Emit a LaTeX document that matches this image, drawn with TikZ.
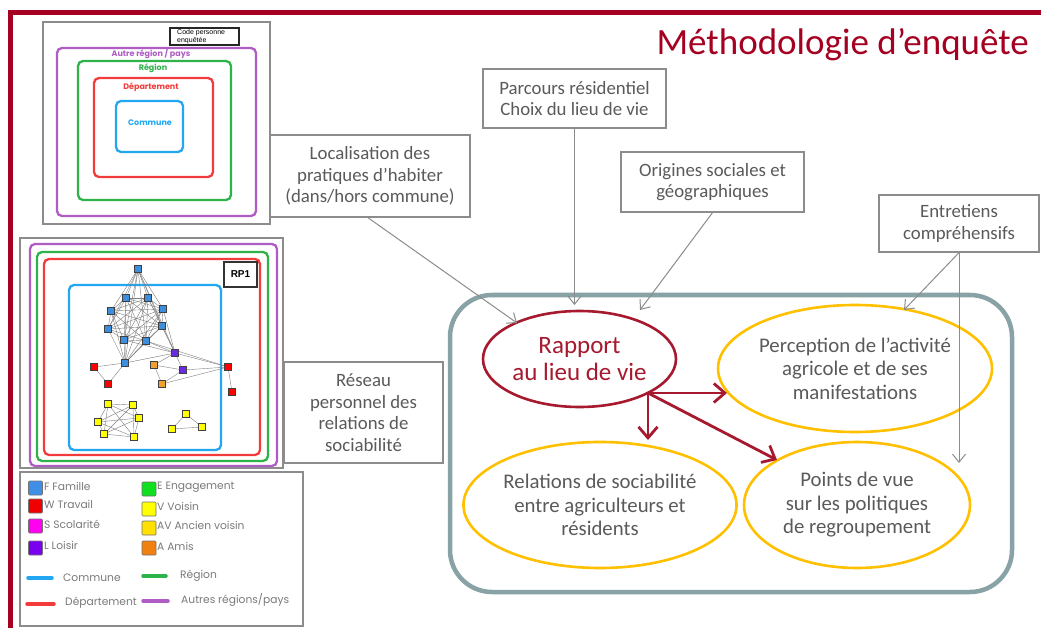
\documentclass[tikz,border=0pt]{standalone}
\usepackage{fontspec}
\setmainfont{Carlito}
\newfontfamily\legfont{Poppins}
\newfontfamily\arialfont{Liberation Sans}
\usetikzlibrary{arrows.meta,shapes.geometric}
\definecolor{framered}{HTML}{A50021}
\definecolor{boxgray}{HTML}{8C8C8C}
\definecolor{txtgray}{HTML}{5A5A5A}
\definecolor{leggray}{HTML}{7A7A7A}
\definecolor{tealgray}{HTML}{88A2A5}
\definecolor{gold}{HTML}{FFC000}
\definecolor{rapred}{HTML}{A6192E}
\definecolor{cpurple}{HTML}{AF5CC4}
\definecolor{cgreen}{HTML}{2DB34A}
\definecolor{cred}{HTML}{F23C3C}
\definecolor{cblue}{HTML}{22A7F0}
\definecolor{nblue}{HTML}{3E8EDE}
\definecolor{nred}{HTML}{FF0000}
\definecolor{npurple}{HTML}{6A2CE0}
\definecolor{norange}{HTML}{F0A030}
\definecolor{nyellow}{HTML}{FFFF00}
\definecolor{lgfam}{HTML}{3F8FE6}
\definecolor{lgtrav}{HTML}{F00000}
\definecolor{lgscol}{HTML}{FF00F0}
\definecolor{lgloi}{HTML}{7A00F0}
\definecolor{lgeng}{HTML}{10E020}
\definecolor{lgvoi}{HTML}{FFFF00}
\definecolor{lgav}{HTML}{FFE000}
\definecolor{lgami}{HTML}{F08010}
\begin{document}
\begin{tikzpicture}[x=1pt,y=-1pt,
  tbox/.style={draw=boxgray, line width=1.3pt, fill=white, text=txtgray,
    font=\fontsize{18.8}{21.5}\selectfont, align=center, inner sep=0pt},
  oval/.style={ellipse, draw=gold, line width=2.6pt, text=txtgray,
    font=\fontsize{20.8}{23.5}\selectfont, align=center, inner sep=0pt},
  garrow/.style={draw=boxgray, line width=1pt, -{Straight Barb[length=8pt,width=13pt,line width=1pt]}},
  rarrow/.style={draw=rapred, line width=2.8pt, -{Straight Barb[length=11pt,width=19pt,line width=2.8pt]}},
  zone/.style={rounded corners=5pt, line width=2.3pt},
  zlabel/.style={font=\legfont\bfseries\fontsize{8}{8}\selectfont, inner sep=0pt},
  nedge/.style={draw=black!50, line width=0.4pt},
  netnode/.style={rectangle, draw=black!75, line width=0.7pt, minimum size=7pt, inner sep=0pt},
  legsq/.style={rectangle, draw=black!55, line width=0.7pt, minimum size=14pt, inner sep=0pt, rounded corners=1pt},
  legtxt/.style={font=\legfont\fontsize{10.7}{10.7}\selectfont, text=leggray, anchor=west, inner sep=0pt},
  legline/.style={line width=3.5pt, line cap=round},
  graybox/.style={draw=boxgray, line width=1.2pt}
]
\useasboundingbox (0,0) rectangle (1041,628);
\fill[white] (0,0) rectangle (1041,628);

% frame
\draw[framered, line width=5pt] (1041,12.5) -- (10.5,12.5) -- (10.5,628);

% title
\node[anchor=base east, inner sep=0pt, text=framered, font=\fontsize{37}{37}\selectfont] (title) at (1029,55) {Méthodologie d’enquête};

% ---------- top-left nested zones ----------
\draw[graybox] (43,22) rectangle (270,224);
\draw[zone, cpurple] (57,48) rectangle (256,216);
\draw[zone, cgreen] (78,61) rectangle (231,200);
\draw[zone, cred] (94,78) rectangle (213,177);
\draw[zone, cblue] (116,101) rectangle (183,152);
\node[draw=black!85, line width=1.6pt, fill=white, minimum width=69pt, minimum height=17pt, inner sep=0pt] (codebox) at (204.5,36.5) {};
\node[anchor=west, align=left, inner sep=0pt, font=\arialfont\fontsize{7}{6.6}\selectfont] (codetxt) at (177,36.8) {Code personne\\enquêtée};
\node[zlabel, text=cpurple] (lblautre) at (151,53.5) {Autre région / pays};
\node[zlabel, text=cgreen] (lblreg) at (153,68) {Région};
\node[zlabel, text=cred] (lbldep) at (151,87) {Département};
\node[zlabel, text=cblue] (lblcom) at (150,123) {Commune};

% ---------- network panel ----------
\draw[graybox] (20,238) rectangle (283,468);
\draw[zone, cpurple] (30,244) rectangle (277,466);
\draw[zone, cgreen] (37,252) rectangle (268,461);
\draw[zone, cred] (44,259) rectangle (260,455);
\draw[zone, cblue] (69,285) rectangle (221,450);
\node[draw=black!80, line width=2pt, fill=white, minimum width=33pt, minimum height=25pt, inner sep=0pt,
  font=\arialfont\bfseries\fontsize{10}{10}\selectfont] (rp1) at (240.5,274.5) {RP1};

% network coordinates
\foreach \n/\x/\y in {b1/138/269, b2/126/298, b3/148/298, b4/163/309, b5/111/311,
  b6/108/329, b7/162/326, b8/124/340, b9/146/341, b10/125/363,
  p1/175/353, o1/154/365, p2/183/370, o2/162/384,
  r1/94/367, r2/108/384, r3/228/367, r4/232/392,
  y1/108/404, y2/133/405, y3/139/418, y4/98/422, y5/104/434, y6/134/437,
  t1/186/414, t2/172/429, t3/202/427}
  \coordinate (\n) at (\x,\y);
% edges
\foreach \i in {1,...,10}{
  \foreach \j in {1,...,10}{
    \ifnum\i<\j \draw[nedge] (b\i) -- (b\j); \fi
  }
}
\foreach \i in {1,...,6}{
  \foreach \j in {1,...,6}{
    \ifnum\i<\j \draw[nedge] (y\i) -- (y\j); \fi
  }
}
\foreach \a/\b in {b1/p1, b3/p1, b4/p1, b7/p1, b9/p1, b10/p1, b8/p1,
  b10/r1, b10/r2, r1/r2, p1/o1, p1/p2, o1/o2, p2/o2, o1/p2,
  p1/r3, p2/r3, o2/r3, b9/r3, r3/r4, t1/t2, t2/t3, t3/t1}
  \draw[nedge] (\a) -- (\b);
% nodes
\foreach \n in {b1,b2,b3,b4,b5,b6,b7,b8,b9,b10}
  \node[netnode, fill=nblue] (s\n) at (\n) {};
\node[netnode, fill=npurple] (sp1) at (p1) {};
\node[netnode, fill=npurple] (sp2) at (p2) {};
\node[netnode, fill=norange] (so1) at (o1) {};
\node[netnode, fill=norange] (so2) at (o2) {};
\foreach \n in {r1,r2,r3,r4}
  \node[netnode, fill=nred] (s\n) at (\n) {};
\foreach \n in {y1,y2,y3,y4,y5,y6,t1,t2,t3}
  \node[netnode, fill=nyellow] (s\n) at (\n) {};

% ---------- legend ----------
\draw[graybox] (20,472) rectangle (303,626);
\node[legsq, fill=lgfam] (qf) at (35.5,488) {};
\node[legsq, fill=lgtrav] (qw) at (35.5,506) {};
\node[legsq, fill=lgscol] (qs) at (35.5,526) {};
\node[legsq, fill=lgloi] (ql) at (35.5,548) {};
\node[legsq, fill=lgeng] (qe) at (149,489) {};
\node[legsq, fill=lgvoi] (qv) at (149,509) {};
\node[legsq, fill=lgav] (qa) at (149,528) {};
\node[legsq, fill=lgami] (qm) at (149,548) {};
\node[legtxt] (tf) at (44,486) {F Famille};
\node[legtxt] (tw) at (44,504) {W Travail};
\node[legtxt] (ts) at (44,524) {S Scolarité};
\node[legtxt] (tl) at (44,545) {L Loisir};
\node[legtxt] (te) at (157,487) {E Engagement};
\node[legtxt] (tv) at (157,506) {V Voisin};
\node[legtxt] (ta) at (157,525) {AV Ancien voisin};
\node[legtxt] (tm) at (157,546) {A Amis};
\coordinate (lc1) at (28,578); \coordinate (lc2) at (52,578);
\coordinate (lg1) at (143,576); \coordinate (lg2) at (166,576);
\coordinate (ld1) at (27,604); \coordinate (ld2) at (54,604);
\coordinate (lp1) at (143,601); \coordinate (lp2) at (168,601);
\draw[legline, cblue] (lc1) -- (lc2);
\draw[legline, cgreen] (lg1) -- (lg2);
\draw[legline, cred] (ld1) -- (ld2);
\draw[legline, cpurple] (lp1) -- (lp2);
\node[legtxt] (tcom) at (63,578) {Commune};
\node[legtxt] (treg) at (180,576) {Région};
\node[legtxt] (tdep) at (65,603) {Département};
\node[legtxt] (tapp) at (181,600) {Autres régions/pays};

% ---------- text boxes ----------
\node[tbox, minimum width=200pt, minimum height=82pt] (loc) at (370,176) {Localisation des\\pratiques d’habiter\\(dans/hors commune)};
\node[tbox, minimum width=183pt, minimum height=59pt] (par) at (574.5,98.5) {Parcours résidentiel\\Choix du lieu de vie};
\node[tbox, minimum width=183pt, minimum height=60pt] (ori) at (712.5,182) {Origines sociales et\\géographiques};
\node[tbox, minimum width=160pt, minimum height=57pt] (ent) at (959,223.5) {Entretiens\\compréhensifs};
\node[tbox, minimum width=159pt, minimum height=101pt] (res) at (363.5,412.5) {Réseau\\personnel des\\relations de\\sociabilité};

% ---------- main rounded panel ----------
\draw[tealgray, line width=4.5pt, rounded corners=42pt] (450,295) rectangle (1012,592);

\node[oval, draw=rapred, text=rapred, minimum width=193pt, minimum height=96pt,
  font=\fontsize{25}{27}\selectfont] (rap) at (579.5,359) {Rapport\\au lieu de vie};
\node[oval, minimum width=274pt, minimum height=127pt] (per) at (855,368.5) {Perception de l’activité\\agricole et de ses\\manifestations};
\node[oval, minimum width=270pt, minimum height=126pt] (rel) at (600,505) {Relations de sociabilité\\entre agriculteurs et\\résidents};
\node[oval, minimum width=226pt, minimum height=126pt] (pdv) at (857,505) {Points de vue\\sur les politiques\\de regroupement};

% ---------- connectors ----------
\coordinate (locstart) at (367,217);
\coordinate (tiploc) at (517,323);
\coordinate (tippar) at (574.5,305);
\coordinate (tipori) at (640,310);
\coordinate (tipent) at (904,310);
\coordinate (tipdown) at (959,463);
\draw[garrow] (locstart) -- (tiploc);
\draw[garrow] (par.south) -- (tippar);
\draw[garrow] (ori.south) -- (tipori);
\draw[garrow] (ent.south) -- (tipent);
\draw[garrow] (ent.south) -- (tipdown);

\coordinate (ro) at (648,393);
\coordinate (tipper) at (727,393);
\coordinate (tiprel) at (648,440);
\coordinate (tippdv) at (777,460);
\draw[rarrow] (ro) -- (tipper);
\draw[rarrow] (ro) -- (tiprel);
\draw[rarrow] (ro) -- (tippdv);
\end{tikzpicture}
\end{document}
